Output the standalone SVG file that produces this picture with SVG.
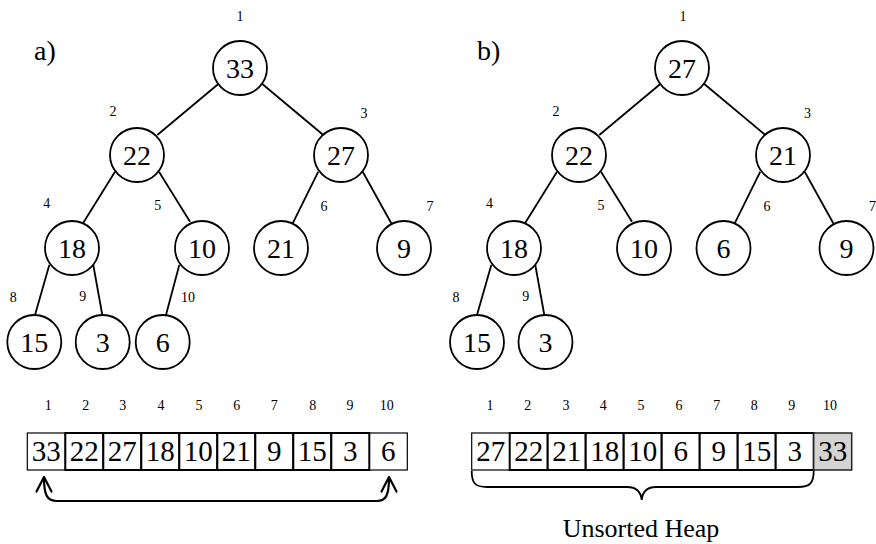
<svg xmlns="http://www.w3.org/2000/svg" width="876" height="544" viewBox="0 0 876 544">
  <style>
    text { font-family: "Liberation Serif", "Times New Roman", serif; fill: #000; }
    .val { font-size: 28px; text-anchor: middle; }
    .cell .val { font-size: 29px; }
    .note { font-size: 26px; text-anchor: middle; }
    .idx { font-size: 14px; text-anchor: middle; }
    .tag { font-size: 28px; }
    .node circle { fill: #fff; stroke: #000; stroke-width: 1.8; }
    .edge { stroke: #000; stroke-width: 1.8; fill: none; }
    .cell rect { fill: #fff; stroke: #000; stroke-width: 2; }
    .cell.end rect { stroke-width: 1.2; }
    .cell.done rect { fill: #d4d4d4; stroke: #222; stroke-width: 1.5; }
    .swap { stroke: #000; stroke-width: 2.2; fill: none; stroke-linecap: round; stroke-linejoin: round; }
    .brace { stroke: #000; stroke-width: 1.8; fill: none; }
  </style>

  <!-- panel labels -->
  <text class="tag" x="34" y="60">a)</text>
  <text class="tag" x="477" y="60">b)</text>

  <!-- tree edges -->
  <g id="connectors">
    <!-- heap a -->
    <line class="edge" x1="218.3" y1="84" x2="157.3" y2="135"/>
    <line class="edge" x1="262.3" y1="84" x2="323.3" y2="135"/>
    <line class="edge" x1="115" y1="171.7" x2="83.3" y2="222.7"/>
    <line class="edge" x1="159" y1="171.7" x2="190" y2="221.7"/>
    <line class="edge" x1="318.3" y1="171.7" x2="292.7" y2="223.3"/>
    <line class="edge" x1="362.7" y1="171.7" x2="391.7" y2="224"/>
    <line class="edge" x1="49.3" y1="265" x2="35" y2="315"/>
    <line class="edge" x1="93.3" y1="265" x2="102.3" y2="315"/>
    <line class="edge" x1="179.3" y1="265" x2="166" y2="315"/>
    <!-- heap b -->
    <line class="edge" x1="660.3" y1="84" x2="599.3" y2="135"/>
    <line class="edge" x1="704.3" y1="84" x2="765.3" y2="135"/>
    <line class="edge" x1="557" y1="171.7" x2="525.3" y2="222.7"/>
    <line class="edge" x1="601" y1="171.7" x2="632" y2="221.7"/>
    <line class="edge" x1="760.3" y1="171.7" x2="734.7" y2="223.3"/>
    <line class="edge" x1="804.7" y1="171.7" x2="833.7" y2="224"/>
    <line class="edge" x1="491.3" y1="265" x2="477" y2="315"/>
    <line class="edge" x1="535.3" y1="265" x2="544.3" y2="315"/>
  </g>

  <!-- heap a nodes -->
  <g id="a1" class="node"><circle cx="240" cy="68" r="27"/><text class="val" x="240" y="77.5">33</text><text class="idx" x="240" y="21">1</text></g>
  <g id="a2" class="node"><circle cx="137" cy="155" r="27"/><text class="val" x="137" y="164.5">22</text><text class="idx" x="113" y="116">2</text></g>
  <g id="a3" class="node"><circle cx="341" cy="155" r="27"/><text class="val" x="341" y="164.5">27</text><text class="idx" x="364" y="117.5">3</text></g>
  <g id="a4" class="node"><circle cx="72" cy="248" r="27"/><text class="val" x="72" y="257.5">18</text><text class="idx" x="46.7" y="208">4</text></g>
  <g id="a5" class="node"><circle cx="202" cy="248" r="27"/><text class="val" x="202" y="257.5">10</text><text class="idx" x="157.7" y="210">5</text></g>
  <g id="a6" class="node"><circle cx="281" cy="248" r="27"/><text class="val" x="281" y="257.5">21</text><text class="idx" x="324" y="211">6</text></g>
  <g id="a7" class="node"><circle cx="404" cy="248" r="27"/><text class="val" x="404" y="257.5">9</text><text class="idx" x="430" y="211">7</text></g>
  <g id="a8" class="node"><circle cx="34.3" cy="342" r="27"/><text class="val" x="34.3" y="351.5">15</text><text class="idx" x="13.3" y="302">8</text></g>
  <g id="a9" class="node"><circle cx="102.7" cy="342" r="27"/><text class="val" x="102.7" y="351.5">3</text><text class="idx" x="82.7" y="301">9</text></g>
  <g id="a10" class="node"><circle cx="162.7" cy="342" r="27"/><text class="val" x="162.7" y="351.5">6</text><text class="idx" x="188" y="302">10</text></g>

  <!-- heap b nodes -->
  <g id="b1" class="node"><circle cx="682" cy="68" r="27"/><text class="val" x="682" y="77.5">27</text><text class="idx" x="683" y="21">1</text></g>
  <g id="b2" class="node"><circle cx="579" cy="155" r="27"/><text class="val" x="579" y="164.5">22</text><text class="idx" x="556" y="116">2</text></g>
  <g id="b3" class="node"><circle cx="783" cy="155" r="27"/><text class="val" x="783" y="164.5">21</text><text class="idx" x="807.5" y="117.5">3</text></g>
  <g id="b4" class="node"><circle cx="514" cy="248" r="27"/><text class="val" x="514" y="257.5">18</text><text class="idx" x="489.5" y="208">4</text></g>
  <g id="b5" class="node"><circle cx="644" cy="248" r="27"/><text class="val" x="644" y="257.5">10</text><text class="idx" x="601" y="210">5</text></g>
  <g id="b6" class="node"><circle cx="723.5" cy="248" r="27"/><text class="val" x="723.5" y="257.5">6</text><text class="idx" x="767" y="211">6</text></g>
  <g id="b7" class="node"><circle cx="846.5" cy="248" r="27"/><text class="val" x="846.5" y="257.5">9</text><text class="idx" x="872.5" y="211">7</text></g>
  <g id="b8" class="node"><circle cx="477" cy="342" r="27"/><text class="val" x="477" y="351.5">15</text><text class="idx" x="456" y="302">8</text></g>
  <g id="b9" class="node"><circle cx="545.5" cy="342" r="27"/><text class="val" x="545.5" y="351.5">3</text><text class="idx" x="525.7" y="301">9</text></g>

  <!-- array a -->
  <g id="arrayA">
    <g class="idx-row">
      <text class="idx" x="48.3" y="410">1</text><text class="idx" x="85.7" y="410">2</text>
      <text class="idx" x="122.7" y="410">3</text><text class="idx" x="161" y="410">4</text>
      <text class="idx" x="199" y="410">5</text><text class="idx" x="236.7" y="410">6</text>
      <text class="idx" x="274.3" y="410">7</text><text class="idx" x="312.7" y="410">8</text>
      <text class="idx" x="350" y="410">9</text><text class="idx" x="386.7" y="410">10</text>
    </g>
    <g id="cellA1" class="cell end"><rect x="27.3" y="433" width="38" height="37"/><text class="val" x="46.3" y="461">33</text></g>
    <g id="cellA10" class="cell end"><rect x="369.3" y="433" width="38" height="37"/><text class="val" x="388.3" y="461">6</text></g>
    <g id="cellA2" class="cell"><rect x="65.3" y="433" width="38" height="37"/><text class="val" x="84.3" y="461">22</text></g>
    <g id="cellA3" class="cell"><rect x="103.3" y="433" width="38" height="37"/><text class="val" x="122.3" y="461">27</text></g>
    <g id="cellA4" class="cell"><rect x="141.3" y="433" width="38" height="37"/><text class="val" x="160.3" y="461">18</text></g>
    <g id="cellA5" class="cell"><rect x="179.3" y="433" width="38" height="37"/><text class="val" x="198.3" y="461">10</text></g>
    <g id="cellA6" class="cell"><rect x="217.3" y="433" width="38" height="37"/><text class="val" x="236.3" y="461">21</text></g>
    <g id="cellA7" class="cell"><rect x="255.3" y="433" width="38" height="37"/><text class="val" x="274.3" y="461">9</text></g>
    <g id="cellA8" class="cell"><rect x="293.3" y="433" width="38" height="37"/><text class="val" x="312.3" y="461">15</text></g>
    <g id="cellA9" class="cell"><rect x="331.3" y="433" width="38" height="37"/><text class="val" x="350.3" y="461">3</text></g>
  </g>

  <!-- swap of first and last element -->
  <g id="swapArrow">
    <path class="swap" d="M44 478 C44 495 47 501 57 501 L377 501 C386 501 389 495 389 478"/>
    <path class="swap" d="M36.5 491.5 L44 477 L51.5 491.5"/>
    <path class="swap" d="M381.5 491.5 L389 477 L396.5 491.5"/>
  </g>

  <!-- array b -->
  <g id="arrayB">
    <g class="idx-row">
      <text class="idx" x="490" y="410">1</text><text class="idx" x="527.7" y="410">2</text>
      <text class="idx" x="566" y="410">3</text><text class="idx" x="603.3" y="410">4</text>
      <text class="idx" x="641" y="410">5</text><text class="idx" x="679" y="410">6</text>
      <text class="idx" x="716.7" y="410">7</text><text class="idx" x="754.3" y="410">8</text>
      <text class="idx" x="791.7" y="410">9</text><text class="idx" x="830" y="410">10</text>
    </g>
    <g id="cellB1" class="cell end"><rect x="471.7" y="433" width="38" height="37"/><text class="val" x="490.7" y="461">27</text></g>
    <g id="cellB2" class="cell"><rect x="509.7" y="433" width="38" height="37"/><text class="val" x="528.7" y="461">22</text></g>
    <g id="cellB3" class="cell"><rect x="547.7" y="433" width="38" height="37"/><text class="val" x="566.7" y="461">21</text></g>
    <g id="cellB4" class="cell"><rect x="585.7" y="433" width="38" height="37"/><text class="val" x="604.7" y="461">18</text></g>
    <g id="cellB5" class="cell"><rect x="623.7" y="433" width="38" height="37"/><text class="val" x="642.7" y="461">10</text></g>
    <g id="cellB6" class="cell"><rect x="661.7" y="433" width="38" height="37"/><text class="val" x="680.7" y="461">6</text></g>
    <g id="cellB7" class="cell"><rect x="699.7" y="433" width="38" height="37"/><text class="val" x="718.7" y="461">9</text></g>
    <g id="cellB8" class="cell"><rect x="737.7" y="433" width="38" height="37"/><text class="val" x="756.7" y="461">15</text></g>
    <g id="cellB9" class="cell"><rect x="775.7" y="433" width="38" height="37"/><text class="val" x="794.7" y="461">3</text></g>
    <g id="cellB10" class="cell done"><rect x="813.7" y="433" width="38" height="37"/><text class="val" x="832.7" y="461">33</text></g>
  </g>

  <!-- brace under the unsorted part -->
  <g id="unsortedBrace">
    <path class="brace" d="M471.7 471 C471.7 483 475 487 487 487 L627 487 C637 487 641 493 641.7 500 C642.4 493 646 487 656 487 L798 487 C810 487 813.7 483 813.7 471"/>
    <text class="note" x="641" y="537">Unsorted Heap</text>
  </g>
</svg>
